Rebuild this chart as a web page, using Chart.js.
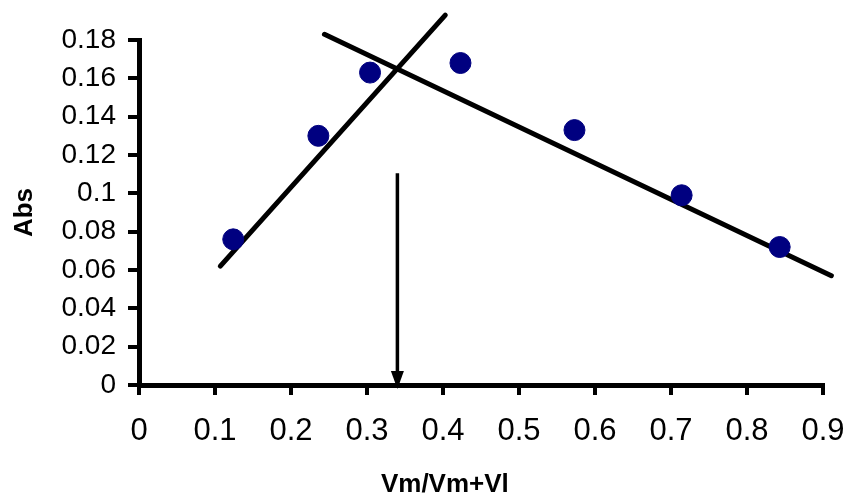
<!DOCTYPE html>
<html>
<head>
<meta charset="utf-8">
<script src="https://cdn.jsdelivr.net/npm/chart.js@4.4.1/dist/chart.umd.min.js"></script>
<style>
  body { margin: 0; background: #fff; }
  #wrap { width: 845px; height: 495px; }
</style>
</head>
<body>
<div id="wrap"><canvas id="jobChart"></canvas></div>
<script>
// measured points
const ratioX = [0.124, 0.236, 0.304, 0.423, 0.573, 0.714, 0.843];
const absY = [0.076, 0.130, 0.163, 0.168, 0.133, 0.099, 0.072];

// the two hand-drawn fit lines (end points)
const riseX = [0.107, 0.403];
const riseY = [0.062, 0.193];
const fallX = [0.244, 0.911];
const fallY = [0.183, 0.057];

// arrow marking the intersection on the x axis
const arrowX = [0.340, 0.340];
const arrowY = [0.1105, 0];

const xTicks = [0, 0.1, 0.2, 0.3, 0.4, 0.5, 0.6, 0.7, 0.8, 0.9];
const yTicks = [0, 0.02, 0.04, 0.06, 0.08, 0.1, 0.12, 0.14, 0.16, 0.18];

function toPoints(xs, ys) {
    return xs.map(function(x, i) { return { x: x, y: ys[i] }; });
}

// draws the arrow head at the last point of the arrow dataset
const arrowHead = {
    id: 'arrowHead',
    afterDatasetsDraw: function(chart) {
        const meta = chart.getDatasetMeta(3);
        const tip = meta.data[meta.data.length - 1];
        const c = chart.ctx;
        const y = tip.y + 4;
        c.save();
        c.fillStyle = '#000';
        c.beginPath();
        c.moveTo(tip.x, y);
        c.lineTo(tip.x - 6.5, y - 18);
        c.lineTo(tip.x + 6.5, y - 18);
        c.closePath();
        c.fill();
        c.restore();
    }
};

document.addEventListener('DOMContentLoaded', function() {
    const ctx = document.getElementById('jobChart').getContext('2d');
    new Chart(ctx, {
        type: 'scatter',
        data: {
            datasets: [{
                data: toPoints(ratioX, absY),
                backgroundColor: '#000080',
                borderColor: '#000080',
                pointRadius: 10.5,
                pointHoverRadius: 10.5,
                order: 0
            }, {
                data: toPoints(riseX, riseY),
                showLine: true,
                borderColor: '#000',
                borderWidth: 5,
                borderCapStyle: 'round',
                pointRadius: 0,
                clip: false,
                order: 1
            }, {
                data: toPoints(fallX, fallY),
                showLine: true,
                borderColor: '#000',
                borderWidth: 5,
                borderCapStyle: 'round',
                pointRadius: 0,
                clip: false,
                order: 1
            }, {
                data: toPoints(arrowX, arrowY),
                showLine: true,
                borderColor: '#000',
                borderWidth: 3.5,
                pointRadius: 0,
                clip: false,
                order: 1
            }]
        },
        options: {
            responsive: true,
            maintainAspectRatio: false,
            animation: false,
            layout: { padding: { top: 40, right: 22, left: 0, bottom: 0 } },
            plugins: {
                legend: { display: false },
                tooltip: { enabled: false }
            },
            scales: {
                x: {
                    type: 'linear',
                    min: 0,
                    max: 0.9,
                    afterBuildTicks: function(s) { s.ticks = xTicks.map(function(v) { return { value: v }; }); },
                    afterFit: function(s) { s.height = 110; s.paddingRight = 0; s.paddingLeft = 0; },
                    border: { color: '#000', width: 5 },
                    grid: { display: true, drawOnChartArea: false, color: '#000', lineWidth: 4, tickLength: 10 },
                    ticks: {
                        color: '#000',
                        padding: 18,
                        maxRotation: 0,
                        font: { family: 'Liberation Sans, Arial', size: 31 },
                        callback: function(v) { return String(+v.toFixed(2)); }
                    },
                    title: {
                        display: true,
                        text: 'Vm/Vm+Vl          ',
                        color: '#000',
                        padding: { top: 0, bottom: -3 },
                        font: { family: 'Liberation Sans, Arial', size: 26, weight: 'bold', lineHeight: 1 }
                    }
                },
                y: {
                    type: 'linear',
                    min: 0,
                    max: 0.18,
                    afterBuildTicks: function(s) { s.ticks = yTicks.map(function(v) { return { value: v }; }); },
                    afterFit: function(s) { s.width = 139; },
                    border: { color: '#000', width: 5 },
                    grid: { display: true, drawOnChartArea: false, color: '#000', lineWidth: 4, tickLength: 11 },
                    ticks: {
                        color: '#000',
                        padding: 12,
                        font: { family: 'Liberation Sans, Arial', size: 28 },
                        callback: function(v) { return String(+v.toFixed(2)); }
                    },
                    title: {
                        display: true,
                        text: 'Abs',
                        color: '#000',
                        padding: { top: 9, bottom: 0 },
                        font: { family: 'Liberation Sans, Arial', size: 26, weight: 'bold', lineHeight: 1.2 }
                    }
                }
            }
        },
        plugins: [arrowHead]
    });
});
</script>
</body>
</html>
